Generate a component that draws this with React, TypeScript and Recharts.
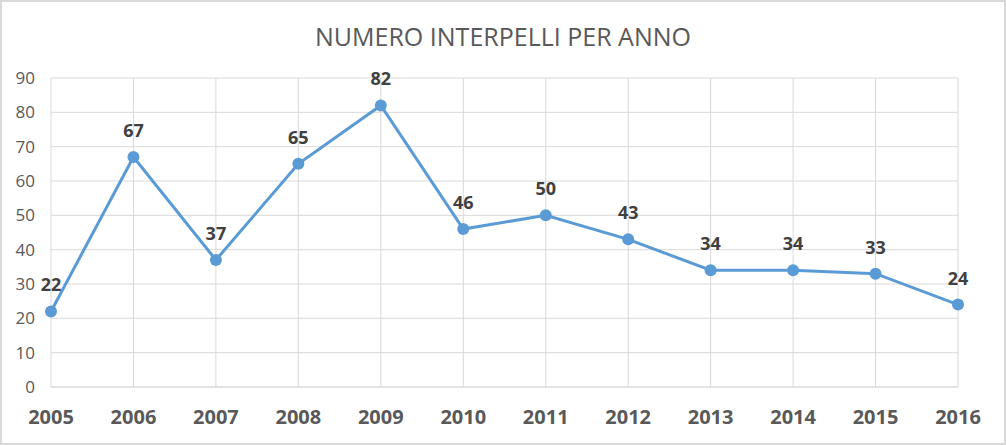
import React from "react";
import { LineChart, Line, XAxis, YAxis, CartesianGrid, LabelList } from "recharts";

const years = ["2005", "2006", "2007", "2008", "2009", "2010", "2011", "2012", "2013", "2014", "2015", "2016"];
const interpelli = [22, 67, 37, 65, 82, 46, 50, 43, 34, 34, 33, 24];
const yTicks = [0, 10, 20, 30, 40, 50, 60, 70, 80, 90];
const title = "NUMERO INTERPELLI PER ANNO";

const data = years.map((y, i) => ({ year: y, value: interpelli[i] }));

const FONT = "'Open Sans', 'DejaVu Sans', sans-serif";

const renderLabel = (props: any) => {
  const { x, y, value } = props;
  return (
    <text x={x} y={y - 20} textAnchor="middle" fill="#404040" fontFamily={FONT} fontSize={18} fontWeight="bold">
      {value}
    </text>
  );
};

export default function App() {
  return (
    <div style={{ position: "absolute", left: 0, top: 0, width: 1006, height: 445, background: "#fff" }}>
      <div
        style={{
          position: "absolute",
          left: 0,
          top: 0,
          width: 1006,
          height: 445,
          boxSizing: "border-box",
          border: "2px solid #d9d9d9",
          pointerEvents: "none",
          zIndex: 2,
        }}
      />
      <div
        style={{
          position: "absolute",
          left: 0,
          top: 18,
          width: 1006,
          textAlign: "center",
          fontFamily: FONT,
          fontSize: 25,
          color: "#595959",
          lineHeight: "36px",
        }}
      >
        {title}
      </div>
      <LineChart
        width={1006}
        height={445}
        data={data}
        margin={{ top: 78, right: 48, bottom: 0, left: 0 }}
      >
        <CartesianGrid stroke="#d9d9d9" strokeWidth={1} vertical={true} horizontal={true} />
        <XAxis
          dataKey="year"
          height={58}
          tickSize={0}
          tickMargin={23}
          axisLine={{ stroke: "#d9d9d9" }}
          tickLine={false}
          interval={0}
          tick={{ fill: "#595959", fontFamily: FONT, fontSize: 20, fontWeight: "bold" }}
          padding={{ left: 0, right: 0 }}
        />
        <YAxis
          width={51}
          domain={[0, 90]}
          ticks={yTicks}
          tickSize={0}
          tickMargin={16}
          axisLine={false}
          tickLine={false}
          interval={0}
          tick={{ fill: "#595959", fontFamily: FONT, fontSize: 17 }}
        />
        <Line
          type="linear"
          dataKey="value"
          stroke="#5B9BD5"
          strokeWidth={3}
          dot={{ r: 6, fill: "#5B9BD5", stroke: "#5B9BD5", strokeWidth: 0 }}
          activeDot={false}
          isAnimationActive={false}
        >
          <LabelList dataKey="value" content={renderLabel} />
        </Line>
      </LineChart>
    </div>
  );
}
